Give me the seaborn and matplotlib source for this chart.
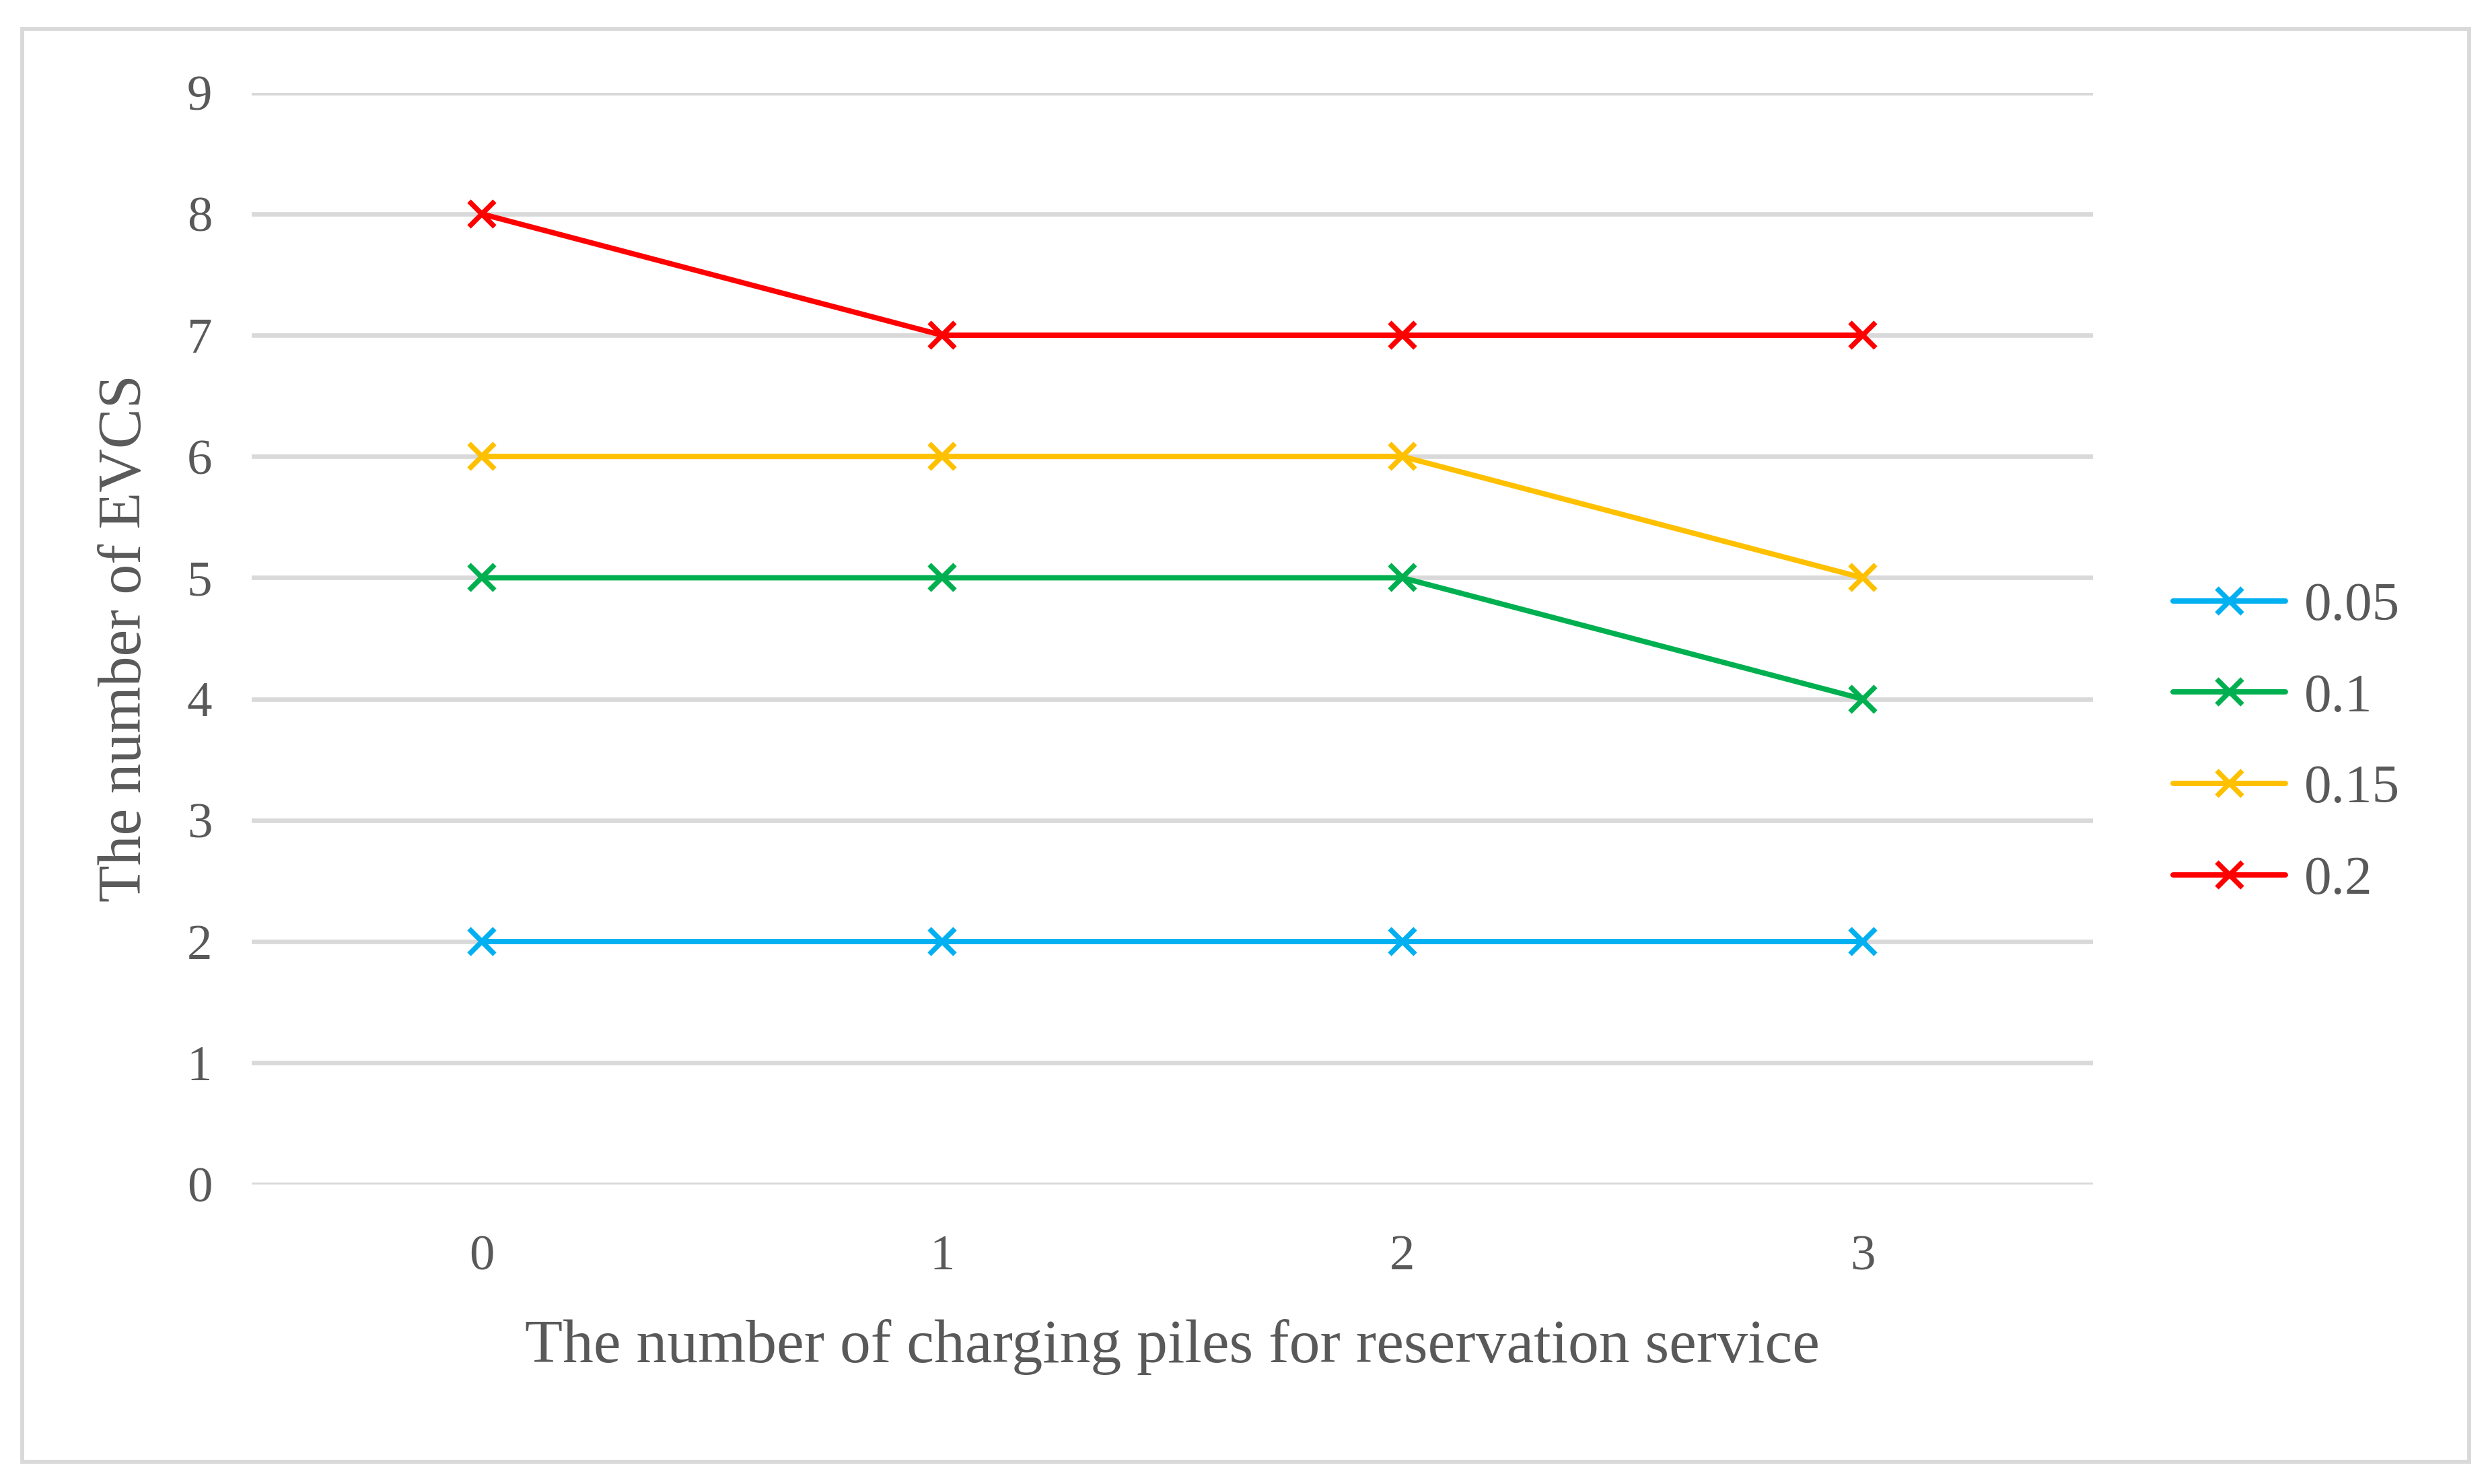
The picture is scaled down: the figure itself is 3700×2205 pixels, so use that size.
import seaborn as sns
import matplotlib.pyplot as plt
import pandas as pd
from matplotlib.patches import Rectangle

# Datos del grafico
piles = [0, 1, 2, 3]
series_names = ["0.05", "0.1", "0.15", "0.2"]
evcs_005 = [2, 2, 2, 2]
evcs_01 = [5, 5, 5, 4]
evcs_015 = [6, 6, 6, 5]
evcs_02 = [8, 7, 7, 7]
colors = ["#00B0F0", "#00B050", "#FFC000", "#FF0000"]

df = pd.DataFrame({
    "piles": piles * 4,
    "evcs": evcs_005 + evcs_01 + evcs_015 + evcs_02,
    "serie": [s for s in series_names for _ in piles],
})

sns.set_style("white")
plt.rcParams["font.family"] = ["Liberation Serif", "DejaVu Serif"]
text_color = "#595959"

fig = plt.figure(figsize=(3700 / 300, 2205 / 300), dpi=300)
ax = fig.add_axes([0.101, 0.202, 0.7395, 0.7356])

sns.lineplot(data=df, x="piles", y="evcs", hue="serie", hue_order=series_names,
             palette=colors, marker="x", markersize=9, markeredgewidth=1.8,
             linewidth=1.9, ax=ax, legend=True)

# las "x" salen blancas por defecto, ponerles el color de la linea
for ln in ax.lines:
    ln.set_markeredgecolor(ln.get_color())

ax.set_xlim(-0.5, 3.5)
ax.set_ylim(0, 9)
ax.set_xticks(piles)
ax.set_yticks(range(0, 10))
ax.yaxis.grid(True, color="#D9D9D9", linewidth=1.6)
ax.set_axisbelow(True)
for s in ax.spines.values():
    s.set_visible(False)
ax.tick_params(axis="both", length=0, labelsize=18, colors=text_color)
ax.tick_params(axis="y", pad=14)
ax.tick_params(axis="x", pad=18)
ax.set_xlabel("The number of charging piles for reservation service",
              fontsize=22, color=text_color, labelpad=14)
ax.set_ylabel("The number of EVCS", fontsize=21.5, color=text_color, labelpad=12)

handles, labels = ax.get_legend_handles_labels()
for h in handles:
    h.set_markeredgecolor(h.get_color())
ax.get_legend().remove()
fig.legend(handles, labels, loc="center left", bbox_to_anchor=(0.853, 0.499),
           frameon=False, fontsize=19.5, handlelength=2.05, labelspacing=0.76,
           handletextpad=0.35, labelcolor=text_color)

# Borde exterior
fig.patches.append(Rectangle((0.009, 0.015), 0.9825, 0.9656, transform=fig.transFigure,
                             fill=False, edgecolor="#D9D9D9", linewidth=1.4))

fig.savefig("out.png", dpi=300, facecolor="white")
